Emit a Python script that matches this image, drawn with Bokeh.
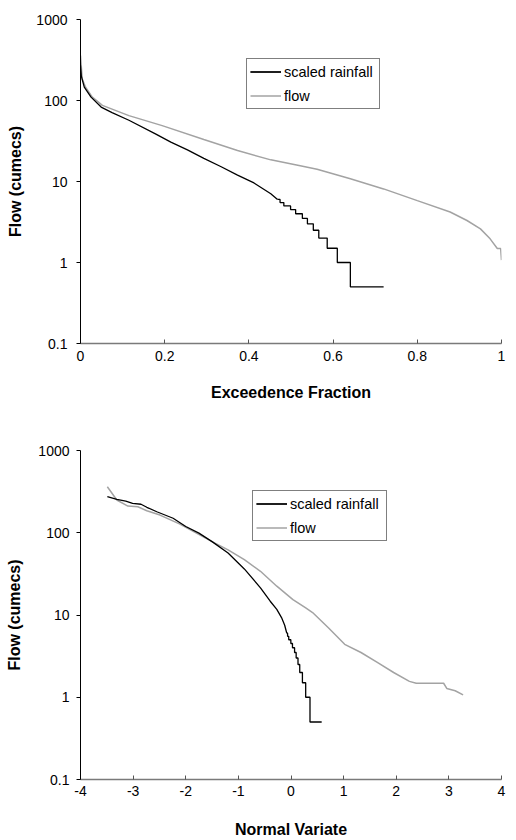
from bokeh.plotting import figure
from bokeh.models import FixedTicker, CustomJSTickFormatter, Legend, LegendItem, Range1d
from bokeh.layouts import column
from bokeh.embed import file_html
from bokeh.resources import INLINE

# ---------------- data ----------------
# Top chart: flow duration curve (exceedence fraction vs flow)
rain_exc_smooth = [0.0, 0.002, 0.009, 0.025, 0.049, 0.075, 0.115, 0.178, 0.2146, 0.254,
                   0.293, 0.333, 0.373, 0.412, 0.452, 0.468]
rain_val_smooth = [270, 200, 146, 110, 83, 71, 57, 38.8, 30.6, 24.6,
                   19.3, 15.3, 12.0, 9.6, 7.05, 6.0]
rain_exc_steps = [0.468, 0.474, 0.483, 0.499, 0.511, 0.527, 0.539, 0.553, 0.566, 0.586, 0.61, 0.641, 0.72]
rain_val_steps = [6.0, 5.5, 5.0, 4.5, 4.0, 3.5, 3.0, 2.5, 2.0, 1.5, 1.0, 0.5, 0.5]

flow_exc = [0.0, 0.004, 0.012, 0.028, 0.052, 0.115, 0.194, 0.293, 0.373, 0.452, 0.519,
            0.562, 0.641, 0.72, 0.8, 0.878, 0.918, 0.95, 0.973, 0.99, 0.998, 1.0]
flow_val = [360, 185, 146, 110, 87, 65, 49, 33, 24.1, 18.5, 15.8,
            14.2, 10.8, 8.1, 5.8, 4.2, 3.3, 2.6, 1.96, 1.49, 1.49, 1.07]

# Bottom chart: normal variate vs flow
rain_z_smooth = [-3.49, -3.31, -3.14, -3.01, -2.85, -2.74, -2.55, -2.24, -2.0, -1.75,
                 -1.5, -1.196, -0.887, -0.58, -0.395, -0.27, -0.18, -0.12, -0.08]
rain_zval_smooth = [274, 255, 243, 228, 222, 204, 180, 150, 119, 99,
                    78, 56.7, 36.3, 21.4, 14.7, 11.7, 9.3, 7.5, 6.0]
rain_z_steps = [-0.08, -0.065, -0.043, -0.003, 0.028, 0.068, 0.098, 0.133, 0.166, 0.217, 0.279, 0.361, 0.583]
rain_zval_steps = [6.0, 5.5, 5.0, 4.5, 4.0, 3.5, 3.0, 2.5, 2.0, 1.5, 1.0, 0.5, 0.5]

flow_z = [-3.49, -3.31, -3.1, -2.91, -2.74, -2.49, -2.12, -1.5, -1.196, -0.887, -0.58,
          -0.27, 0.037, 0.28, 0.41, 0.71, 1.02, 1.33, 1.64, 1.95, 2.25, 2.38,
          2.9, 2.96, 3.12, 3.27]
flow_zval = [362, 250, 211, 207, 185, 164, 128, 78, 62, 47, 34,
             22.4, 15.4, 12.2, 10.7, 7.0, 4.4, 3.5, 2.65, 2.0, 1.56, 1.48,
             1.48, 1.28, 1.2, 1.07]

y_ticks = [0.1, 1, 10, 100, 1000]
top_x_ticks = [0, 0.2, 0.4, 0.6, 0.8, 1]
bot_x_ticks = [-4, -3, -2, -1, 0, 1, 2, 3, 4]

series_names = ["scaled rainfall", "flow"]
y_title = "Flow (cumecs)"

FONT = "Liberation Sans"
GREY = "#a3a3a3"
fmt_code = "return String(Number(tick.toPrecision(6)));"


def make_fig(width, height, xr, mbl, mbr, mbt, mbb, xticks, xtitle,
             x_std, x_title_std, y_std, y_title_std):
    p = figure(width=width, height=height, y_axis_type="log",
               x_range=Range1d(*xr), y_range=Range1d(0.1, 1000),
               output_backend="svg", toolbar_location=None,
               min_border_left=mbl, min_border_right=mbr,
               min_border_top=mbt, min_border_bottom=mbb)
    p.outline_line_color = None
    p.xgrid.visible = False
    p.ygrid.visible = False
    p.background_fill_color = "white"
    p.border_fill_color = "white"

    p.yaxis.ticker = FixedTicker(ticks=y_ticks)
    p.yaxis.formatter = CustomJSTickFormatter(code=fmt_code)
    p.xaxis.ticker = FixedTicker(ticks=xticks)
    p.xaxis.formatter = CustomJSTickFormatter(code=fmt_code)

    for ax in (p.xaxis, p.yaxis):
        ax.major_label_text_font = FONT
        ax.major_label_text_font_size = "14px"
        ax.major_label_text_color = "black"
        ax.axis_label_text_font = FONT
        ax.axis_label_text_font_size = "16px"
        ax.axis_label_text_font_style = "bold"
        ax.axis_label_text_color = "black"
        ax.minor_tick_line_color = None

    p.yaxis.axis_label = y_title
    p.yaxis.axis_line_color = "black"
    p.yaxis.major_tick_line_color = "black"
    p.yaxis.major_tick_out = 4
    p.yaxis.major_tick_in = 0
    p.yaxis.major_label_standoff = y_std
    p.yaxis.axis_label_standoff = y_title_std

    p.xaxis.axis_label = xtitle
    p.xaxis.axis_line_color = "#7a7a7a"
    p.xaxis.axis_line_width = 1.5
    p.xaxis.major_tick_line_color = "#555555"
    p.xaxis.major_tick_out = 0
    p.xaxis.major_tick_in = 4
    p.xaxis.major_label_standoff = x_std
    p.xaxis.axis_label_standoff = x_title_std
    return p


def add_series(p, xs_s, ys_s, xs_st, ys_st, xf, yf, loc, lw):
    rf = p.line(xf, yf, line_color=GREY, line_width=1.5)
    r1 = p.line(xs_s, ys_s, line_color="black", line_width=1.3)
    r2 = p.step(xs_st, ys_st, mode="after", line_color="black", line_width=1.3)
    leg = Legend(items=[LegendItem(label=series_names[0], renderers=[r1, r2]),
                        LegendItem(label=series_names[1], renderers=[rf])],
                 location=loc, margin=0, padding=3, spacing=5,
                 glyph_width=31, glyph_height=19, label_height=19,
                 label_width=lw, label_standoff=3,
                 label_text_font=FONT, label_text_font_size="14.5px",
                 label_text_color="black",
                 border_line_color="black", border_line_width=1,
                 background_fill_color="white", background_fill_alpha=1)
    p.add_layout(leg)


W = 516
H1 = 404
H2 = 436

p1 = make_fig(W, H1, (0, 1), 80, 15, 19, H1 - 343, top_x_ticks, "Exceedence Fraction",
              x_std=7, x_title_std=20, y_std=9, y_title_std=9)
add_series(p1, rain_exc_smooth, rain_val_smooth, rain_exc_steps, rain_val_steps,
           flow_exc, flow_val, (166, 234), 92)

p2 = make_fig(W, H2, (-4, 4), 78, 5, 46, 59, bot_x_ticks, "Normal Variate",
              x_std=6, x_title_std=22, y_std=7, y_title_std=12)
add_series(p2, rain_z_smooth, rain_zval_smooth, rain_z_steps, rain_zval_steps,
           flow_z, flow_zval, (172, 238), 93)

layout = column(p1, p2)
open("out.html", "w").write(file_html(layout, INLINE))
